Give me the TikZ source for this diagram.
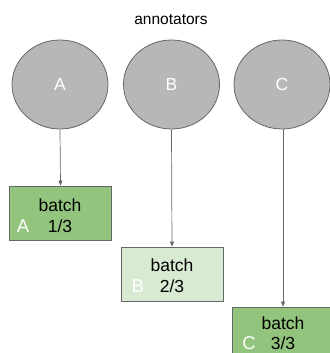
\documentclass[tikz,border=0pt]{standalone}
\usepackage{fontspec}
\setmainfont{Liberation Sans}
\usetikzlibrary{arrows.meta,shapes.geometric}
\definecolor{circfill}{HTML}{B7B7B7}
\definecolor{edge}{HTML}{666666}
\definecolor{darkgreen}{HTML}{93C47D}
\definecolor{lightgreen}{HTML}{D9EAD3}
\tikzset{
  annot/.style={ellipse, draw=edge, fill=circfill, line width=0.8pt, minimum width=96pt, minimum height=89pt, inner sep=0pt, text=white, font=\fontsize{17.5}{17.5}\selectfont},
  batchbox/.style={rectangle, draw=edge, line width=0.8pt, minimum width=102pt, minimum height=54pt, inner sep=0pt},
  boxtext/.style={font=\fontsize{17.5}{17.5}\selectfont, inner sep=0pt},
  titletext/.style={font=\fontsize{15.5}{15.5}\selectfont, inner sep=0pt},
  letter/.style={font=\fontsize{18.5}{18.5}\selectfont, text=white, inner sep=0pt},
  conn/.style={draw=edge, line width=0.7pt, -{Triangle[length=5pt,width=4pt]}}
}
\begin{document}
\begin{tikzpicture}[x=1pt,y=-1pt]
\useasboundingbox (0,0) rectangle (329,353);
\node[titletext] (title) at (171,20) {annotators};
\node[annot] (cA) at (60,84.5) {A};
\node[annot] (cB) at (171.5,84.5) {B};
\node[annot] (cC) at (282,84.5) {C};
\node[batchbox, fill=darkgreen] (bA) at (60.5,213) {};
\node[batchbox, fill=lightgreen] (bB) at (172,274) {};
\node[batchbox, fill=darkgreen, minimum height=60pt] (bC) at (283,337) {};
\node[boxtext] (tA1) at (60,205.5) {batch};
\node[boxtext] (tA2) at (60,226.5) {1/3};
\node[letter] (lA) at (23,226.5) {A};
\node[boxtext] (tB1) at (172,265) {batch};
\node[boxtext] (tB2) at (172,286) {2/3};
\node[letter] (lB) at (138,286) {B};
\node[boxtext] (tC1) at (283,323.5) {batch};
\node[boxtext] (tC2) at (283,343.5) {3/3};
\node[letter] (lC) at (249,343.5) {C};
\draw[conn] (cA.south) -- (bA.north);
\draw[conn] (cB.south) -- (bB.north);
\draw[conn] (cC.south -| bC.north) -- (bC.north);
\end{tikzpicture}
\end{document}
